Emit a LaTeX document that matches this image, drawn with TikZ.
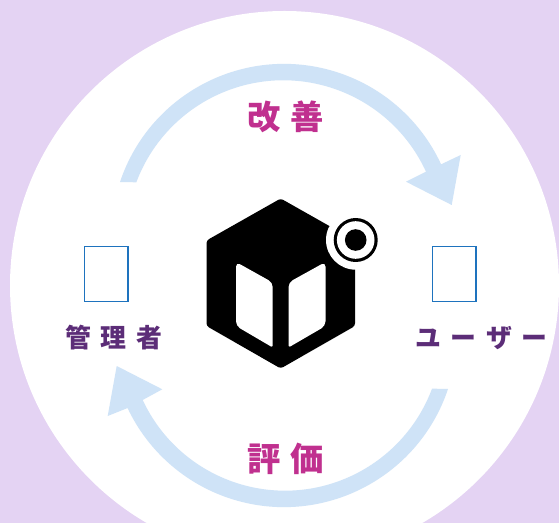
\documentclass[tikz,border=0pt]{standalone}
\usepackage{fontspec}
\newfontfamily\cjk{Noto Sans CJK JP}
\definecolor{bgpurple}{HTML}{E4D3F3}
\definecolor{arrowblue}{HTML}{CFE3F7}
\definecolor{boxblue}{HTML}{1E73BE}
\definecolor{labelpurple}{HTML}{5C2D78}
\definecolor{labelpink}{HTML}{C0308F}
\tikzset{
  cyclearrow/.style={fill=arrowblue},
  rolebox/.style={draw=boxblue,line width=1.05pt,fill=white,minimum width=32.6pt,minimum height=41pt,inner sep=0pt,anchor=north west},
  rolelabel/.style={text=labelpurple,font=\cjk\bfseries\fontsize{19.4}{21}\selectfont,inner sep=0pt},
  actionlabel/.style={text=labelpink,font=\cjk\bfseries\fontsize{25}{27}\selectfont,inner sep=0pt},
  panel/.style={fill=white}
}
\begin{document}
\begin{tikzpicture}[x=.75pt,y=.75pt,yscale=-1]
\useasboundingbox (0,0) rectangle (559,523);
\fill[bgpurple] (0,0) rectangle (559,523);
\begin{scope}
\clip (0,0) rectangle (559,523);
\fill[white] (284.5,285.5) circle[radius=274.5];
\end{scope}
% arrows
\fill[cyclearrow] (120,182) arc[start angle=-161.5,end angle=-24.8,radius=173]
  -- (460.7,155) -- (451.7,205) -- (406,181.7) -- (426,171.7)
  arc[start angle=-24.7,end angle=-159.5,radius=157] -- cycle;
\fill[cyclearrow] (448,389) arc[start angle=18.5,end angle=154.7,radius=173]
  -- (107.7,416) -- (116.7,366) -- (162.3,389.3) -- (142.7,400)
  arc[start angle=155,end angle=20.5,radius=157] -- cycle;
% cube icon
\fill[black,rounded corners=2pt] (280.7,198.5) -- (355,240.5) -- (355,326) -- (280.7,368.5) -- (206.5,326) -- (206.5,240.5) -- cycle;
\fill[panel,rounded corners=1.2pt] (236,262) [rounded corners=3.5pt] -- (272.7,282.5) [rounded corners=1.2pt] -- (272.7,347.5) [rounded corners=3.5pt] -- (236,326) -- cycle;
\fill[panel,rounded corners=1.2pt] (325.5,262) [rounded corners=3.5pt] -- (288.5,282.5) [rounded corners=1.2pt] -- (288.5,347.5) [rounded corners=3.5pt] -- (325.5,326) -- cycle;
\fill[white] (355.7,240) circle[radius=29.7];
\fill[black] (355.7,240) circle[radius=22];
\fill[white] (355.7,240) circle[radius=18.8];
\fill[black] (355.7,240) circle[radius=10.8];
% role boxes
\node[rolebox] (adminbox) at (83.8,246) {};
\node[rolebox] (userbox) at (432,246) {};
% labels
\node[rolelabel] (admin) at (113.8,338) {管\kern7.2pt 理\kern7.2pt 者};
\node[rolelabel] (user) at (481.5,338) {ユ\kern7.2pt ー\kern7.2pt ザ\kern7.2pt ー};
\node[actionlabel] (improve) at (285.5,117) {改\kern7.5pt 善};
\node[actionlabel] (evaluate) at (285.5,459) {評\kern7.5pt 価};
\end{tikzpicture}
\end{document}
